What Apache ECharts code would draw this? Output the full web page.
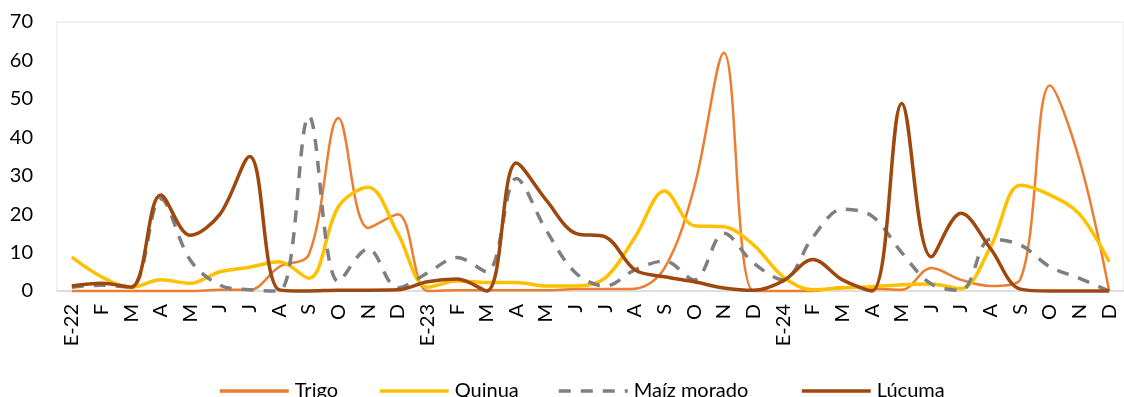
<!DOCTYPE html>
<html><head><meta charset="utf-8">
<script src="https://cdn.jsdelivr.net/npm/echarts@6/dist/echarts.min.js"></script>
<style>html,body{margin:0;padding:0;background:#fff}#c{width:1124px;height:397px}</style>
</head><body><div id="c"></div>
<script>
const months = ['E-22','F','M','A','M','J','J','A','S','O','N','D',
                'E-23','F','M','A','M','J','J','A','S','O','N','D',
                'E-24','F','M','A','M','J','J','A','S','O','N','D'];
const yTicks = [0,10,20,30,40,50,60,70];
const trigo  = [0,0,0,0,0,0.3,0.3,6.3,9.5,45,16.4,20, 0,0.2,0.2,0.2,0.2,0.5,0.5,0.6,6,27,62,0, 0,0,1,0.6,0.3,6,2.9,1.3,3,53.5,34,0];
const quinua = [8.8,3.7,1,2.9,2,5,6.2,7.6,3.3,22,27,15, 1,2.6,2.2,2.2,1.3,1.3,3.4,14,26,17,16.7,12, 3.7,0.3,0.8,1.1,1.6,1.8,0.6,11.5,27.5,25,20,7.6];
const maiz   = [1,1.5,1,24,8,1.5,0.3,0,45.5,2.4,11,0.8, 4.7,8.7,5,29.3,15.9,4.7,1.3,5.5,7.8,2.9,15,7.3, 2.9,14,21.3,19.5,10,1.8,0.2,13.5,12,6.3,3.3,0];
const lucuma = [1.3,2,1,25,14.5,20,35,0.3,0,0.2,0.2,0.3, 2.4,3.1,0,33.3,23.7,15,14.1,5.5,3.7,2.4,0.8,0.2, 2.6,8.2,2.9,0,48.8,8.9,20.2,11,0.5,0,0,0];
const names = ['Trigo','Quinua','Maíz morado','Lúcuma'];
const colors = ['#ED7D31','#FFC000','#7F7F7F','#9E480E'];

const font = 'Lato';
const chart = echarts.init(document.getElementById('c'), null, {renderer:'canvas'});
const mk = (name, data, color, width, type) => ({
  name, type:'line', data, smooth:0.35, symbol:'none', clip:false,
  lineStyle:{color, width, type: type || 'solid', cap:'butt'},
  itemStyle:{color}
});
const legendLefts = [213, 373, 552, 795];
chart.setOption({
  animation:false,
  textStyle:{fontFamily:font},
  grid:{left:57, right:-2, top:22, bottom:106, show:true, borderColor:'#EDEDED', borderWidth:1.5},
  xAxis:{type:'category', data:months, boundaryGap:true,
    axisLine:{lineStyle:{color:'#D9D9D9', width:1.5}}, axisTick:{show:false},
    axisLabel:{interval:0, rotate:90, color:'#000', fontSize:20, fontFamily:font, margin:13}},
  yAxis:{type:'value', min:yTicks[0], max:yTicks[yTicks.length-1], interval:10,
    axisLine:{show:false}, axisTick:{show:false}, splitLine:{show:false},
    axisLabel:{color:'#000', fontSize:20, fontFamily:font, margin:24}},
  legend: names.map((n,i)=>({data:[n], left:legendLefts[i], top:376, itemWidth:69, itemHeight:20, itemGap:0,
    itemStyle:{opacity:0, borderWidth:0},
    lineStyle:{width:3.5},
    textStyle:{fontSize:20, fontFamily:font, color:'#000', padding:[0,0,0,1]}})),
  series:[
    mk(names[0], trigo, colors[0], 2.5),
    mk(names[1], quinua, colors[1], 3.5),
    mk(names[2], maiz, colors[2], 3.5, [12,10]),
    mk(names[3], lucuma, colors[3], 3.5)
  ]
});
</script></body></html>
